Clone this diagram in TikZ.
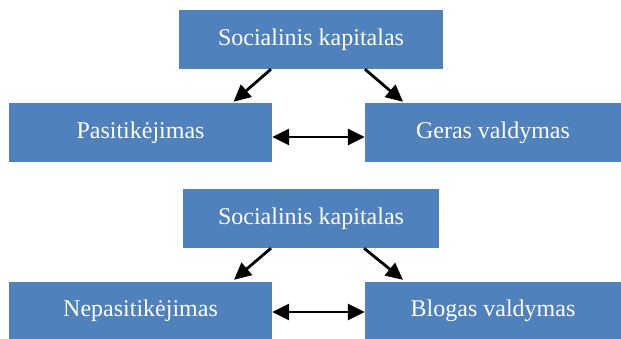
\documentclass[tikz,border=0pt]{standalone}
\usepackage{fontspec}
\setmainfont{Liberation Serif}
\usetikzlibrary{arrows.meta}
\definecolor{boxblue}{RGB}{79,129,189}
\begin{document}
\begin{tikzpicture}[x=1pt,y=-1pt,
  box/.style={rectangle, fill=boxblue, text=white, inner sep=0pt, font=\fontsize{24}{28}\selectfont},
  arr/.style={line width=2.8pt, -{Triangle[length=17pt,width=16pt]}},
  darr/.style={line width=2.8pt, {Triangle[length=17pt,width=16pt]}-{Triangle[length=17pt,width=16pt]}}]
\useasboundingbox (0,0) rectangle (621,339);
\node[box, minimum width=264pt, minimum height=59pt] (t1) at (311,39.5) {Socialinis kapitalas};
\node[box, minimum width=263pt, minimum height=59pt] (l1) at (140.5,132.5) {Pasitikėjimas};
\node[box, minimum width=256pt, minimum height=59pt] (r1) at (493,132.5) {Geras valdymas};
\node[box, minimum width=256pt, minimum height=59pt] (t2) at (311,218.5) {Socialinis kapitalas};
\node[box, minimum width=263pt, minimum height=57pt] (l2) at (140.5,310.5) {Nepasitikėjimas};
\node[box, minimum width=256pt, minimum height=57pt] (r2) at (493,310.5) {Blogas valdymas};
\draw[arr] ([xshift=-40pt]t1.south) -- ([xshift=93pt,yshift=1pt]l1.north);
\draw[arr] ([xshift=54pt]t1.south) -- ([xshift=-90pt,yshift=1pt]r1.north);
\draw[darr] ([yshift=-4.5pt]l1.east) -- ([yshift=-4.5pt]r1.west);
\draw[arr] ([xshift=-40pt]t2.south) -- ([xshift=93.5pt,yshift=2pt]l2.north);
\draw[arr] ([xshift=53pt]t2.south) -- ([xshift=-90pt,yshift=2pt]r2.north);
\draw[darr] ([yshift=-1.5pt]l2.east) -- ([yshift=-1.5pt]r2.west);
\end{tikzpicture}
\end{document}
